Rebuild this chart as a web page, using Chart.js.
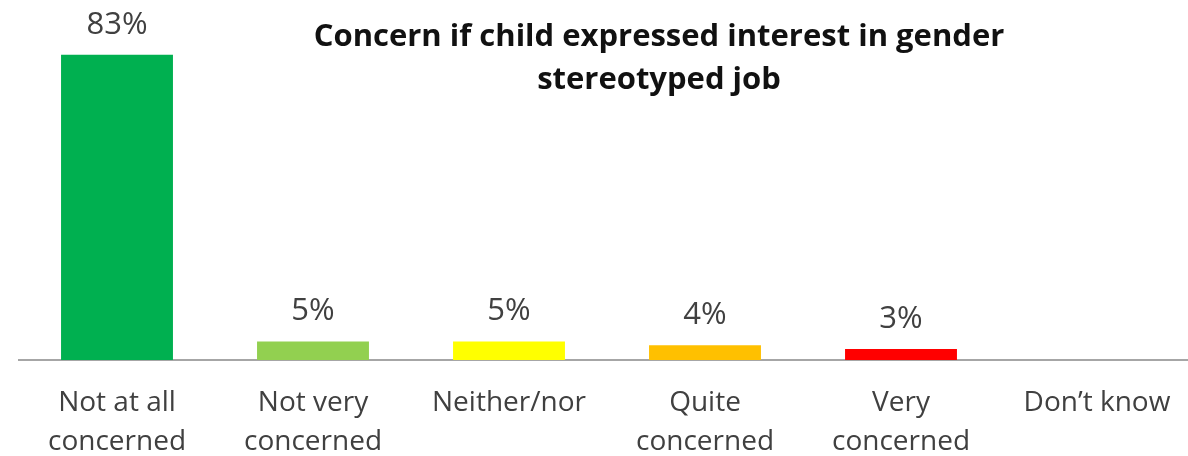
<!DOCTYPE html>
<html>
<head>
<meta charset="utf-8">
<script src="https://cdn.jsdelivr.net/npm/chart.js@4"></script>
<style>
    html, body { margin: 0; padding: 0; background: #fff; overflow: hidden; }
    #wrap { position: relative; width: 1196px; height: 456px; }
</style>
</head>
<body>
<div id="wrap"><canvas id="concernChart"></canvas></div>
<script>
const categories = [
    ['Not at all', 'concerned'],
    ['Not very', 'concerned'],
    ['Neither/nor'],
    ['Quite', 'concerned'],
    ['Very', 'concerned'],
    ['Don\u2019t know']
];
const percentages = [83, 5, 5, 4, 3, 0];
const barColors = ['#00B050', '#92D050', '#FFFF00', '#FFC000', '#FF0000', '#7F7F7F'];
const titleLines = ['Concern if child expressed interest in gender', 'stereotyped job'];

const fontFamily = '"Open Sans", "Noto Sans", sans-serif';

// value labels above each bar (skip empty ones)
const valueLabels = {
    id: 'valueLabels',
    afterDatasetsDraw(chart) {
        const ctx = chart.ctx;
        const meta = chart.getDatasetMeta(0);
        ctx.save();
        ctx.font = '31px ' + fontFamily;
        ctx.fillStyle = '#404040';
        ctx.textAlign = 'center';
        ctx.textBaseline = 'middle';
        meta.data.forEach((bar, i) => {
            const v = percentages[i];
            if (!v) return;
            ctx.fillText(v + '%', bar.x, bar.y - 30);
        });
        ctx.restore();
    }
};

// title sits inside the plot, right of centre
const chartTitle = {
    id: 'chartTitle',
    afterDraw(chart) {
        const ctx = chart.ctx;
        ctx.save();
        ctx.font = 'bold 31px ' + fontFamily;
        ctx.fillStyle = '#111111';
        ctx.textAlign = 'center';
        ctx.textBaseline = 'middle';
        titleLines.forEach((line, i) => {
            ctx.fillText(line, 659, 37 + i * 43);
        });
        ctx.restore();
    }
};

new Chart('concernChart', {
    type: 'bar',
    data: {
        labels: categories,
        datasets: [{
            data: percentages,
            backgroundColor: barColors,
            categoryPercentage: 1,
            barPercentage: 0.571
        }]
    },
    options: {
        responsive: true,
        maintainAspectRatio: false,
        animation: false,
        layout: {
            padding: { left: 19, right: 1, top: 29, bottom: 0 }
        },
        plugins: {
            legend: { display: false },
            tooltip: { enabled: false },
            title: { display: false }
        },
        scales: {
            x: {
                grid: { display: false, drawTicks: false },
                border: { display: true, color: '#A6A6A6', width: 2 },
                ticks: {
                    color: '#404040',
                    font: { family: fontFamily, size: 28, lineHeight: 1.4 },
                    padding: 23,
                    maxRotation: 0,
                    autoSkip: false
                },
                afterFit(scale) { scale.height = 96; }
            },
            y: {
                display: false,
                min: 0,
                max: 90
            }
        }
    },
    plugins: [valueLabels, chartTitle]
});
</script>
</body>
</html>
